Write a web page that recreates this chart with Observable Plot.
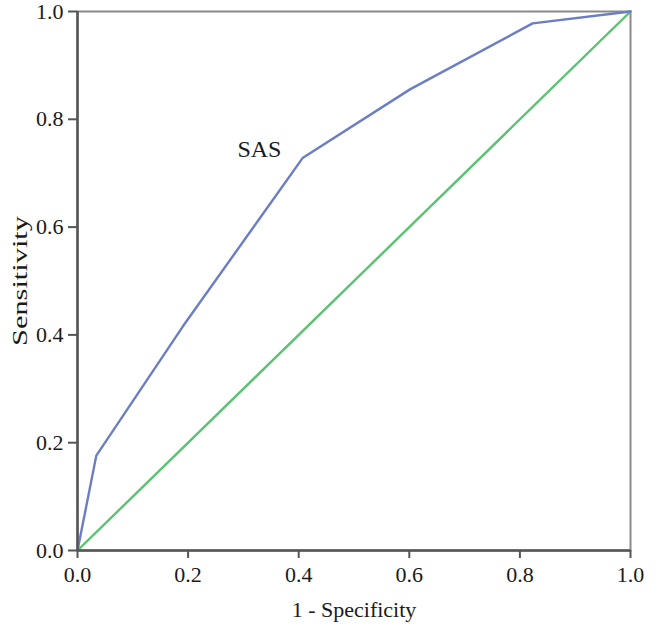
<!DOCTYPE html>
<html>
<head>
<meta charset="utf-8">
<script src="https://cdn.jsdelivr.net/npm/d3@7"></script>
<script src="https://cdn.jsdelivr.net/npm/@observablehq/plot@0.6"></script>
<style>
  body { margin: 0; background: #fff; }
  #chart svg, #chart svg text { font-family: "Liberation Serif", "Times New Roman", serif !important; }
  #chart svg { font-size: 22px !important; }
</style>
</head>
<body>
<div id="chart"></div>
<script>
// ROC curve data
const fpr = [0, 0.034, 0.19, 0.407, 0.602, 0.823, 1];
const tpr = [0, 0.176, 0.415, 0.728, 0.856, 0.978, 1];
const refX = [0, 1];
const refY = [0, 1];
const ticks = [0, 0.2, 0.4, 0.6, 0.8, 1.0];
const curveLabel = "SAS";
const curveLabelPos = [0.329, 0.744];
const xLabel = "1 - Specificity";
const yLabel = "Sensitivity";

const roc = fpr.map((x, i) => ({x, y: tpr[i]}));
const ref = refX.map((x, i) => ({x, y: refY[i]}));
const serif = "Liberation Serif";

const chart = Plot.plot({
  width: 658,
  height: 627,
  marginLeft: 77,
  marginRight: 28,
  marginTop: 11,
  marginBottom: 77,
  style: {fontFamily: serif, fontSize: "22px", color: "#222", background: "#fff"},
  x: {domain: [0, 1]},
  y: {domain: [0, 1]},
  marks: [
    Plot.frame({stroke: "#8a8a8a", strokeWidth: 2}),
    Plot.line(ref, {x: "x", y: "y", stroke: "#5cc172", strokeWidth: 2.4}),
    Plot.line(roc, {x: "x", y: "y", stroke: "#6b7ec4", strokeWidth: 2.4}),
    Plot.text([curveLabel], {x: () => curveLabelPos[0], y: () => curveLabelPos[1], text: d => d, fontSize: 24, fontFamily: serif, fill: "#1a1a1a", textAnchor: "middle"}),
    Plot.ruleX([0], {stroke: "#555", strokeWidth: 2.5}),
    Plot.ruleY([0], {stroke: "#555", strokeWidth: 2.5}),
    Plot.axisX({ticks: ticks, tickFormat: d3.format(".1f"), tickSize: 8, tickPadding: 8, strokeWidth: 2, stroke: "#555", fill: "#1a1a1a", fontSize: 22, fontFamily: serif, label: null}),
    Plot.axisY({ticks: ticks, tickFormat: d3.format(".1f"), tickSize: 9, tickPadding: 5, strokeWidth: 2, stroke: "#555", fill: "#1a1a1a", fontSize: 22, fontFamily: serif, label: null}),
    Plot.text([xLabel], {frameAnchor: "bottom", dy: 66, text: d => d, fontSize: 22, fontFamily: serif, fill: "#1a1a1a", textAnchor: "middle"}),
    Plot.text([yLabel], {frameAnchor: "left", dx: -58, rotate: -90, text: d => d, fontSize: 22, fontFamily: serif, fill: "#1a1a1a", textAnchor: "middle"})
  ]
});
document.getElementById("chart").appendChild(chart);
// the y-axis title is drawn taller in the reference: stretch it to its length there
d3.select(chart).selectAll("text").filter(function() { return this.textContent === yLabel; })
  .attr("textLength", 130).attr("lengthAdjust", "spacingAndGlyphs");
</script>
</body>
</html>
